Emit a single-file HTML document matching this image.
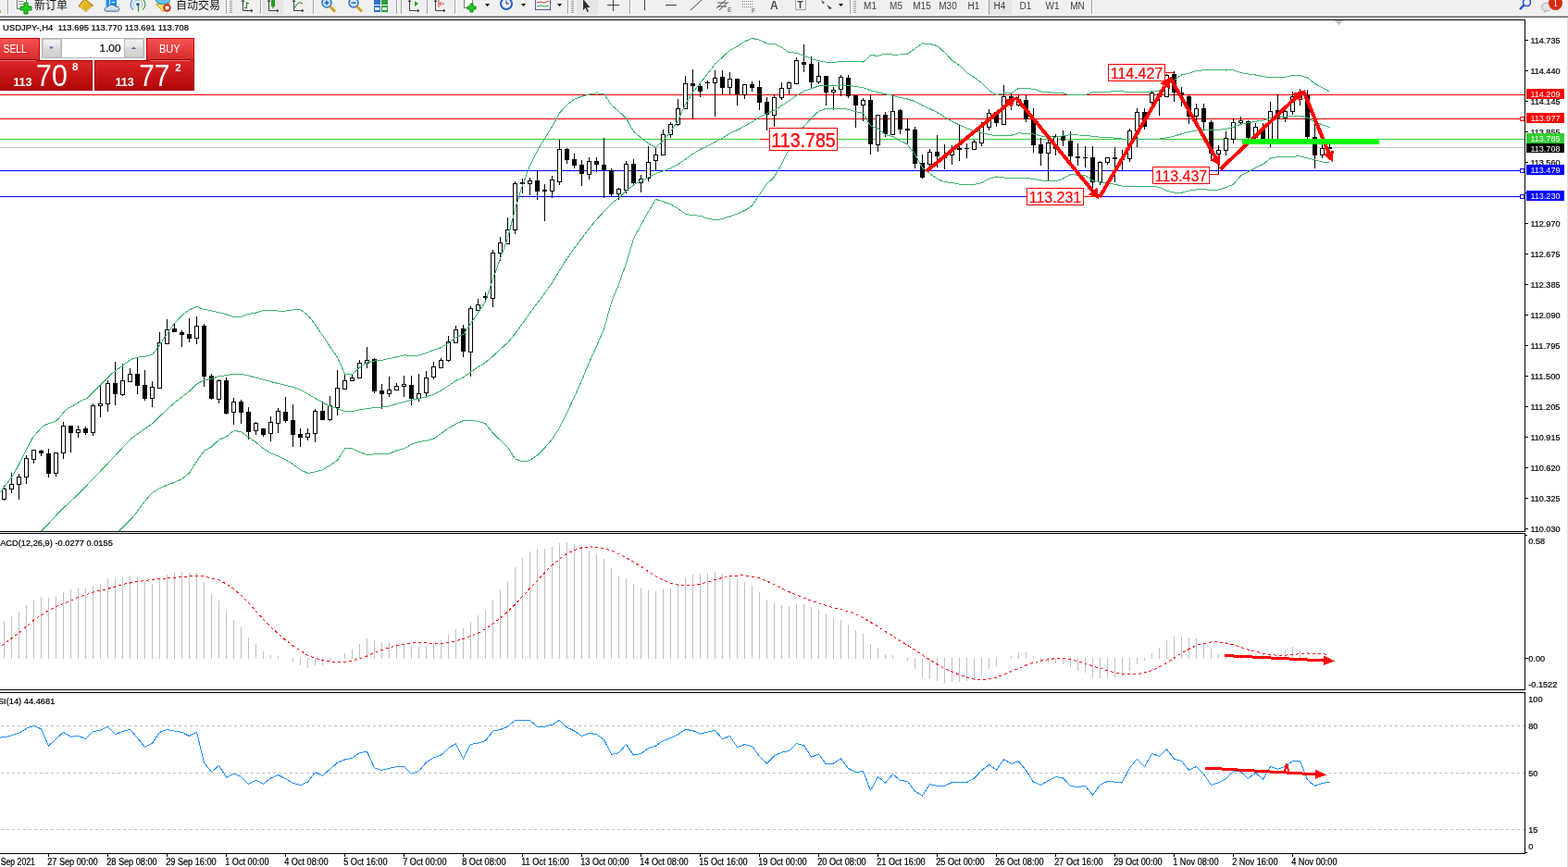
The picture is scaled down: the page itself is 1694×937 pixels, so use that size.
<!DOCTYPE html>
<html><head><meta charset="utf-8"><title>USDJPY-,H4</title><style>
html,body{margin:0;padding:0;width:1694px;height:937px;overflow:hidden;background:#fff;}
svg{display:block;position:absolute;left:0;top:0;}
text{font-family:"Liberation Sans","Noto Sans CJK SC",sans-serif;}
text[fill="#000"]{stroke:#000;stroke-width:0.22px;}
</style></head><body>
<svg width="1694" height="937" viewBox="0 0 1694 937">
<rect x="0" y="0" width="1694" height="937" fill="#ffffff"/>
<defs>
<clipPath id="cm"><rect x="0" y="22" width="1647" height="552"/></clipPath>
<clipPath id="cd"><rect x="0" y="577" width="1647" height="168"/></clipPath>
<clipPath id="cr"><rect x="0" y="749" width="1647" height="173"/></clipPath>
</defs>
<g clip-path="url(#cm)" shape-rendering="crispEdges"><rect x="0" y="102" width="1647" height="1" fill="#ff0000"/><rect x="0" y="128" width="1647" height="1" fill="#ff0000"/><rect x="0" y="150" width="1647" height="1" fill="#32cd32"/><rect x="0" y="159" width="1647" height="1" fill="#c0c0c0"/><rect x="0" y="184" width="1647" height="1" fill="#0000ff"/><rect x="0" y="212" width="1647" height="1" fill="#0000ff"/><rect x="4" y="525" width="1" height="16" fill="#000"/><rect x="2.5" y="528.5" width="4" height="11" fill="#fff" stroke="#000" stroke-width="1"/><rect x="12" y="511" width="1" height="22" fill="#000"/><rect x="10.5" y="523.5" width="4" height="5" fill="#fff" stroke="#000" stroke-width="1"/><rect x="20" y="512" width="1" height="28" fill="#000"/><rect x="18.5" y="515.5" width="4" height="8" fill="#fff" stroke="#000" stroke-width="1"/><rect x="28" y="492" width="1" height="31" fill="#000"/><rect x="26.5" y="495.5" width="4" height="20" fill="#fff" stroke="#000" stroke-width="1"/><rect x="36" y="486" width="1" height="15" fill="#000"/><rect x="34.5" y="486.5" width="4" height="10" fill="#fff" stroke="#000" stroke-width="1"/><rect x="44" y="486" width="1" height="7" fill="#000"/><rect x="42" y="487" width="5" height="3" fill="#000"/><rect x="52" y="485" width="1" height="31" fill="#000"/><rect x="50" y="490" width="5" height="22" fill="#000"/><rect x="60" y="489" width="1" height="26" fill="#000"/><rect x="58.5" y="489.5" width="4" height="22" fill="#fff" stroke="#000" stroke-width="1"/><rect x="68" y="456" width="1" height="40" fill="#000"/><rect x="66.5" y="460.5" width="4" height="29" fill="#fff" stroke="#000" stroke-width="1"/><rect x="76" y="460" width="1" height="29" fill="#000"/><rect x="74" y="460" width="5" height="8" fill="#000"/><rect x="84" y="460" width="1" height="13" fill="#000"/><rect x="82.5" y="464.5" width="4" height="3" fill="#fff" stroke="#000" stroke-width="1"/><rect x="92" y="461" width="1" height="9" fill="#000"/><rect x="90" y="463" width="5" height="5" fill="#000"/><rect x="100" y="436" width="1" height="35" fill="#000"/><rect x="98.5" y="438.5" width="4" height="29" fill="#fff" stroke="#000" stroke-width="1"/><rect x="108" y="416" width="1" height="35" fill="#000"/><rect x="106.5" y="436.5" width="4" height="2" fill="#fff" stroke="#000" stroke-width="1"/><rect x="116" y="411" width="1" height="34" fill="#000"/><rect x="114.5" y="414.5" width="4" height="22" fill="#fff" stroke="#000" stroke-width="1"/><rect x="124" y="391" width="1" height="47" fill="#000"/><rect x="122" y="414" width="5" height="12" fill="#000"/><rect x="132" y="393" width="1" height="35" fill="#000"/><rect x="130.5" y="411.5" width="4" height="15" fill="#fff" stroke="#000" stroke-width="1"/><rect x="140" y="398" width="1" height="15" fill="#000"/><rect x="138.5" y="404.5" width="4" height="8" fill="#fff" stroke="#000" stroke-width="1"/><rect x="148" y="386" width="1" height="40" fill="#000"/><rect x="146" y="404" width="5" height="13" fill="#000"/><rect x="156" y="400" width="1" height="33" fill="#000"/><rect x="154" y="416" width="5" height="15" fill="#000"/><rect x="164" y="412" width="1" height="28" fill="#000"/><rect x="162.5" y="418.5" width="4" height="12" fill="#fff" stroke="#000" stroke-width="1"/><rect x="172" y="359" width="1" height="61" fill="#000"/><rect x="170.5" y="370.5" width="4" height="49" fill="#fff" stroke="#000" stroke-width="1"/><rect x="180" y="345" width="1" height="27" fill="#000"/><rect x="178.5" y="356.5" width="4" height="15" fill="#fff" stroke="#000" stroke-width="1"/><rect x="188" y="350" width="1" height="9" fill="#000"/><rect x="186" y="355" width="5" height="4" fill="#000"/><rect x="196" y="357" width="1" height="18" fill="#000"/><rect x="194" y="359" width="5" height="3" fill="#000"/><rect x="204" y="344" width="1" height="26" fill="#000"/><rect x="202" y="361" width="5" height="5" fill="#000"/><rect x="212" y="342" width="1" height="30" fill="#000"/><rect x="210.5" y="352.5" width="4" height="13" fill="#fff" stroke="#000" stroke-width="1"/><rect x="220" y="350" width="1" height="68" fill="#000"/><rect x="218" y="352" width="5" height="55" fill="#000"/><rect x="228" y="404" width="1" height="28" fill="#000"/><rect x="226" y="406" width="5" height="25" fill="#000"/><rect x="236" y="410" width="1" height="26" fill="#000"/><rect x="234.5" y="411.5" width="4" height="20" fill="#fff" stroke="#000" stroke-width="1"/><rect x="244" y="408" width="1" height="40" fill="#000"/><rect x="242" y="411" width="5" height="36" fill="#000"/><rect x="252" y="430" width="1" height="29" fill="#000"/><rect x="250.5" y="434.5" width="4" height="11" fill="#fff" stroke="#000" stroke-width="1"/><rect x="260" y="432" width="1" height="26" fill="#000"/><rect x="258" y="434" width="5" height="12" fill="#000"/><rect x="268" y="440" width="1" height="35" fill="#000"/><rect x="266" y="445" width="5" height="22" fill="#000"/><rect x="276" y="456" width="1" height="14" fill="#000"/><rect x="274.5" y="457.5" width="4" height="8" fill="#fff" stroke="#000" stroke-width="1"/><rect x="284" y="463" width="1" height="9" fill="#000"/><rect x="282" y="463" width="5" height="7" fill="#000"/><rect x="292" y="450" width="1" height="27" fill="#000"/><rect x="290.5" y="456.5" width="4" height="12" fill="#fff" stroke="#000" stroke-width="1"/><rect x="300" y="441" width="1" height="27" fill="#000"/><rect x="298.5" y="444.5" width="4" height="13" fill="#fff" stroke="#000" stroke-width="1"/><rect x="308" y="429" width="1" height="28" fill="#000"/><rect x="306" y="445" width="5" height="10" fill="#000"/><rect x="316" y="437" width="1" height="46" fill="#000"/><rect x="314" y="454" width="5" height="16" fill="#000"/><rect x="324" y="463" width="1" height="20" fill="#000"/><rect x="322" y="469" width="5" height="4" fill="#000"/><rect x="332" y="463" width="1" height="13" fill="#000"/><rect x="330.5" y="468.5" width="4" height="4" fill="#fff" stroke="#000" stroke-width="1"/><rect x="340" y="442" width="1" height="36" fill="#000"/><rect x="338.5" y="444.5" width="4" height="24" fill="#fff" stroke="#000" stroke-width="1"/><rect x="348" y="434" width="1" height="20" fill="#000"/><rect x="346" y="444" width="5" height="10" fill="#000"/><rect x="356" y="428" width="1" height="27" fill="#000"/><rect x="354.5" y="438.5" width="4" height="15" fill="#fff" stroke="#000" stroke-width="1"/><rect x="364" y="400" width="1" height="49" fill="#000"/><rect x="362.5" y="419.5" width="4" height="21" fill="#fff" stroke="#000" stroke-width="1"/><rect x="372" y="404" width="1" height="17" fill="#000"/><rect x="370.5" y="411.5" width="4" height="9" fill="#fff" stroke="#000" stroke-width="1"/><rect x="380" y="405" width="1" height="7" fill="#000"/><rect x="378.5" y="408.5" width="4" height="3" fill="#fff" stroke="#000" stroke-width="1"/><rect x="388" y="389" width="1" height="20" fill="#000"/><rect x="386.5" y="392.5" width="4" height="16" fill="#fff" stroke="#000" stroke-width="1"/><rect x="396" y="375" width="1" height="23" fill="#000"/><rect x="394.5" y="389.5" width="4" height="3" fill="#fff" stroke="#000" stroke-width="1"/><rect x="404" y="387" width="1" height="38" fill="#000"/><rect x="402" y="388" width="5" height="35" fill="#000"/><rect x="412" y="415" width="1" height="27" fill="#000"/><rect x="410" y="422" width="5" height="4" fill="#000"/><rect x="420" y="407" width="1" height="22" fill="#000"/><rect x="418.5" y="421.5" width="4" height="4" fill="#fff" stroke="#000" stroke-width="1"/><rect x="428" y="414" width="1" height="8" fill="#000"/><rect x="426.5" y="417.5" width="4" height="4" fill="#fff" stroke="#000" stroke-width="1"/><rect x="436" y="406" width="1" height="23" fill="#000"/><rect x="434.5" y="415.5" width="4" height="2" fill="#fff" stroke="#000" stroke-width="1"/><rect x="444" y="406" width="1" height="32" fill="#000"/><rect x="442" y="416" width="5" height="15" fill="#000"/><rect x="452" y="404" width="1" height="30" fill="#000"/><rect x="450.5" y="425.5" width="4" height="5" fill="#fff" stroke="#000" stroke-width="1"/><rect x="460" y="401" width="1" height="27" fill="#000"/><rect x="458.5" y="408.5" width="4" height="16" fill="#fff" stroke="#000" stroke-width="1"/><rect x="468" y="391" width="1" height="19" fill="#000"/><rect x="466.5" y="396.5" width="4" height="11" fill="#fff" stroke="#000" stroke-width="1"/><rect x="476" y="387" width="1" height="11" fill="#000"/><rect x="474.5" y="389.5" width="4" height="8" fill="#fff" stroke="#000" stroke-width="1"/><rect x="484" y="363" width="1" height="28" fill="#000"/><rect x="482.5" y="369.5" width="4" height="20" fill="#fff" stroke="#000" stroke-width="1"/><rect x="492" y="352" width="1" height="19" fill="#000"/><rect x="490.5" y="356.5" width="4" height="14" fill="#fff" stroke="#000" stroke-width="1"/><rect x="500" y="351" width="1" height="35" fill="#000"/><rect x="498" y="355" width="5" height="25" fill="#000"/><rect x="508" y="331" width="1" height="76" fill="#000"/><rect x="506.5" y="333.5" width="4" height="47" fill="#fff" stroke="#000" stroke-width="1"/><rect x="516" y="323" width="1" height="13" fill="#000"/><rect x="514.5" y="329.5" width="4" height="6" fill="#fff" stroke="#000" stroke-width="1"/><rect x="524" y="316" width="1" height="9" fill="#000"/><rect x="522" y="320" width="5" height="2" fill="#000"/><rect x="532" y="270" width="1" height="62" fill="#000"/><rect x="530.5" y="273.5" width="4" height="49" fill="#fff" stroke="#000" stroke-width="1"/><rect x="540" y="256" width="1" height="26" fill="#000"/><rect x="538.5" y="262.5" width="4" height="11" fill="#fff" stroke="#000" stroke-width="1"/><rect x="548" y="235" width="1" height="29" fill="#000"/><rect x="546.5" y="248.5" width="4" height="15" fill="#fff" stroke="#000" stroke-width="1"/><rect x="556" y="196" width="1" height="57" fill="#000"/><rect x="554.5" y="198.5" width="4" height="50" fill="#fff" stroke="#000" stroke-width="1"/><rect x="564" y="193" width="1" height="16" fill="#000"/><rect x="562" y="197" width="5" height="2" fill="#000"/><rect x="572" y="192" width="1" height="19" fill="#000"/><rect x="570.5" y="195.5" width="4" height="3" fill="#fff" stroke="#000" stroke-width="1"/><rect x="580" y="184" width="1" height="32" fill="#000"/><rect x="578" y="195" width="5" height="12" fill="#000"/><rect x="588" y="199" width="1" height="40" fill="#000"/><rect x="586" y="205" width="5" height="2" fill="#000"/><rect x="596" y="190" width="1" height="24" fill="#000"/><rect x="594.5" y="194.5" width="4" height="12" fill="#fff" stroke="#000" stroke-width="1"/><rect x="604" y="151" width="1" height="49" fill="#000"/><rect x="602.5" y="161.5" width="4" height="35" fill="#fff" stroke="#000" stroke-width="1"/><rect x="612" y="160" width="1" height="17" fill="#000"/><rect x="610" y="161" width="5" height="12" fill="#000"/><rect x="620" y="166" width="1" height="16" fill="#000"/><rect x="618" y="172" width="5" height="7" fill="#000"/><rect x="628" y="173" width="1" height="28" fill="#000"/><rect x="626" y="178" width="5" height="10" fill="#000"/><rect x="636" y="170" width="1" height="24" fill="#000"/><rect x="634.5" y="174.5" width="4" height="14" fill="#fff" stroke="#000" stroke-width="1"/><rect x="644" y="170" width="1" height="16" fill="#000"/><rect x="642" y="174" width="5" height="4" fill="#000"/><rect x="652" y="149" width="1" height="65" fill="#000"/><rect x="650" y="178" width="5" height="6" fill="#000"/><rect x="660" y="182" width="1" height="30" fill="#000"/><rect x="658" y="184" width="5" height="26" fill="#000"/><rect x="668" y="203" width="1" height="13" fill="#000"/><rect x="666.5" y="204.5" width="4" height="5" fill="#fff" stroke="#000" stroke-width="1"/><rect x="676" y="174" width="1" height="35" fill="#000"/><rect x="674.5" y="177.5" width="4" height="28" fill="#fff" stroke="#000" stroke-width="1"/><rect x="684" y="172" width="1" height="28" fill="#000"/><rect x="682" y="177" width="5" height="21" fill="#000"/><rect x="692" y="189" width="1" height="19" fill="#000"/><rect x="690.5" y="193.5" width="4" height="4" fill="#fff" stroke="#000" stroke-width="1"/><rect x="700" y="158" width="1" height="38" fill="#000"/><rect x="698.5" y="175.5" width="4" height="17" fill="#fff" stroke="#000" stroke-width="1"/><rect x="708" y="160" width="1" height="24" fill="#000"/><rect x="706.5" y="167.5" width="4" height="6" fill="#fff" stroke="#000" stroke-width="1"/><rect x="716" y="140" width="1" height="28" fill="#000"/><rect x="714.5" y="145.5" width="4" height="22" fill="#fff" stroke="#000" stroke-width="1"/><rect x="724" y="132" width="1" height="17" fill="#000"/><rect x="722.5" y="134.5" width="4" height="11" fill="#fff" stroke="#000" stroke-width="1"/><rect x="732" y="107" width="1" height="29" fill="#000"/><rect x="730.5" y="117.5" width="4" height="17" fill="#fff" stroke="#000" stroke-width="1"/><rect x="740" y="82" width="1" height="36" fill="#000"/><rect x="738.5" y="90.5" width="4" height="27" fill="#fff" stroke="#000" stroke-width="1"/><rect x="748" y="75" width="1" height="54" fill="#000"/><rect x="746" y="90" width="5" height="3" fill="#000"/><rect x="756" y="89" width="1" height="16" fill="#000"/><rect x="754" y="93" width="5" height="6" fill="#000"/><rect x="764" y="87" width="1" height="9" fill="#000"/><rect x="762" y="89" width="5" height="1" fill="#000"/><rect x="772" y="76" width="1" height="50" fill="#000"/><rect x="770.5" y="84.5" width="4" height="5" fill="#fff" stroke="#000" stroke-width="1"/><rect x="780" y="76" width="1" height="26" fill="#000"/><rect x="778" y="83" width="5" height="12" fill="#000"/><rect x="788" y="78" width="1" height="24" fill="#000"/><rect x="786.5" y="85.5" width="4" height="9" fill="#fff" stroke="#000" stroke-width="1"/><rect x="796" y="85" width="1" height="29" fill="#000"/><rect x="794" y="85" width="5" height="17" fill="#000"/><rect x="804" y="91" width="1" height="16" fill="#000"/><rect x="802.5" y="91.5" width="4" height="11" fill="#fff" stroke="#000" stroke-width="1"/><rect x="812" y="88" width="1" height="11" fill="#000"/><rect x="810" y="91" width="5" height="4" fill="#000"/><rect x="820" y="87" width="1" height="32" fill="#000"/><rect x="818" y="94" width="5" height="17" fill="#000"/><rect x="828" y="105" width="1" height="36" fill="#000"/><rect x="826" y="110" width="5" height="14" fill="#000"/><rect x="836" y="103" width="1" height="34" fill="#000"/><rect x="834.5" y="105.5" width="4" height="19" fill="#fff" stroke="#000" stroke-width="1"/><rect x="844" y="89" width="1" height="19" fill="#000"/><rect x="842.5" y="95.5" width="4" height="10" fill="#fff" stroke="#000" stroke-width="1"/><rect x="852" y="88" width="1" height="14" fill="#000"/><rect x="850.5" y="89.5" width="4" height="6" fill="#fff" stroke="#000" stroke-width="1"/><rect x="860" y="62" width="1" height="29" fill="#000"/><rect x="858.5" y="65.5" width="4" height="25" fill="#fff" stroke="#000" stroke-width="1"/><rect x="868" y="48" width="1" height="30" fill="#000"/><rect x="866" y="67" width="5" height="3" fill="#000"/><rect x="876" y="61" width="1" height="34" fill="#000"/><rect x="874" y="69" width="5" height="20" fill="#000"/><rect x="884" y="67" width="1" height="24" fill="#000"/><rect x="882.5" y="82.5" width="4" height="6" fill="#fff" stroke="#000" stroke-width="1"/><rect x="892" y="82" width="1" height="32" fill="#000"/><rect x="890" y="82" width="5" height="18" fill="#000"/><rect x="900" y="94" width="1" height="25" fill="#000"/><rect x="898.5" y="97.5" width="4" height="2" fill="#fff" stroke="#000" stroke-width="1"/><rect x="908" y="81" width="1" height="23" fill="#000"/><rect x="906.5" y="83.5" width="4" height="13" fill="#fff" stroke="#000" stroke-width="1"/><rect x="916" y="81" width="1" height="25" fill="#000"/><rect x="914" y="84" width="5" height="20" fill="#000"/><rect x="924" y="103" width="1" height="35" fill="#000"/><rect x="922" y="103" width="5" height="11" fill="#000"/><rect x="932" y="106" width="1" height="25" fill="#000"/><rect x="930.5" y="108.5" width="4" height="5" fill="#fff" stroke="#000" stroke-width="1"/><rect x="940" y="103" width="1" height="64" fill="#000"/><rect x="938" y="108" width="5" height="48" fill="#000"/><rect x="948" y="124" width="1" height="40" fill="#000"/><rect x="946.5" y="124.5" width="4" height="32" fill="#fff" stroke="#000" stroke-width="1"/><rect x="956" y="121" width="1" height="27" fill="#000"/><rect x="954" y="124" width="5" height="21" fill="#000"/><rect x="964" y="104" width="1" height="42" fill="#000"/><rect x="962.5" y="120.5" width="4" height="25" fill="#fff" stroke="#000" stroke-width="1"/><rect x="972" y="118" width="1" height="27" fill="#000"/><rect x="970" y="119" width="5" height="21" fill="#000"/><rect x="980" y="128" width="1" height="28" fill="#000"/><rect x="978" y="139" width="5" height="2" fill="#000"/><rect x="988" y="137" width="1" height="45" fill="#000"/><rect x="986" y="140" width="5" height="37" fill="#000"/><rect x="996" y="167" width="1" height="26" fill="#000"/><rect x="994" y="176" width="5" height="16" fill="#000"/><rect x="1004" y="161" width="1" height="20" fill="#000"/><rect x="1002.5" y="164.5" width="4" height="13" fill="#fff" stroke="#000" stroke-width="1"/><rect x="1012" y="146" width="1" height="35" fill="#000"/><rect x="1010" y="164" width="5" height="5" fill="#000"/><rect x="1020" y="156" width="1" height="27" fill="#000"/><rect x="1018" y="168" width="5" height="3" fill="#000"/><rect x="1028" y="157" width="1" height="21" fill="#000"/><rect x="1026.5" y="161.5" width="4" height="6" fill="#fff" stroke="#000" stroke-width="1"/><rect x="1036" y="135" width="1" height="39" fill="#000"/><rect x="1034" y="160" width="5" height="2" fill="#000"/><rect x="1044" y="155" width="1" height="16" fill="#000"/><rect x="1042" y="160" width="5" height="1" fill="#000"/><rect x="1052" y="151" width="1" height="11" fill="#000"/><rect x="1050.5" y="153.5" width="4" height="8" fill="#fff" stroke="#000" stroke-width="1"/><rect x="1060" y="132" width="1" height="26" fill="#000"/><rect x="1058.5" y="136.5" width="4" height="18" fill="#fff" stroke="#000" stroke-width="1"/><rect x="1068" y="118" width="1" height="23" fill="#000"/><rect x="1066.5" y="122.5" width="4" height="15" fill="#fff" stroke="#000" stroke-width="1"/><rect x="1076" y="120" width="1" height="17" fill="#000"/><rect x="1074" y="121" width="5" height="12" fill="#000"/><rect x="1084" y="92" width="1" height="43" fill="#000"/><rect x="1082.5" y="104.5" width="4" height="30" fill="#fff" stroke="#000" stroke-width="1"/><rect x="1092" y="100" width="1" height="19" fill="#000"/><rect x="1090" y="104" width="5" height="4" fill="#000"/><rect x="1100" y="103" width="1" height="12" fill="#000"/><rect x="1098.5" y="107.5" width="4" height="6" fill="#fff" stroke="#000" stroke-width="1"/><rect x="1108" y="103" width="1" height="29" fill="#000"/><rect x="1106" y="108" width="5" height="21" fill="#000"/><rect x="1116" y="117" width="1" height="48" fill="#000"/><rect x="1114" y="128" width="5" height="29" fill="#000"/><rect x="1124" y="149" width="1" height="30" fill="#000"/><rect x="1122" y="156" width="5" height="10" fill="#000"/><rect x="1132" y="148" width="1" height="48" fill="#000"/><rect x="1130.5" y="154.5" width="4" height="11" fill="#fff" stroke="#000" stroke-width="1"/><rect x="1140" y="145" width="1" height="23" fill="#000"/><rect x="1138.5" y="147.5" width="4" height="13" fill="#fff" stroke="#000" stroke-width="1"/><rect x="1148" y="141" width="1" height="17" fill="#000"/><rect x="1146" y="147" width="5" height="5" fill="#000"/><rect x="1156" y="142" width="1" height="36" fill="#000"/><rect x="1154" y="152" width="5" height="17" fill="#000"/><rect x="1164" y="155" width="1" height="24" fill="#000"/><rect x="1162" y="169" width="5" height="2" fill="#000"/><rect x="1172" y="158" width="1" height="23" fill="#000"/><rect x="1170" y="170" width="5" height="1" fill="#000"/><rect x="1180" y="158" width="1" height="53" fill="#000"/><rect x="1178" y="170" width="5" height="27" fill="#000"/><rect x="1188" y="174" width="1" height="26" fill="#000"/><rect x="1186.5" y="175.5" width="4" height="21" fill="#fff" stroke="#000" stroke-width="1"/><rect x="1196" y="170" width="1" height="8" fill="#000"/><rect x="1194.5" y="170.5" width="4" height="5" fill="#fff" stroke="#000" stroke-width="1"/><rect x="1204" y="159" width="1" height="38" fill="#000"/><rect x="1202" y="170" width="5" height="2" fill="#000"/><rect x="1212" y="162" width="1" height="22" fill="#000"/><rect x="1210" y="171" width="5" height="2" fill="#000"/><rect x="1220" y="139" width="1" height="36" fill="#000"/><rect x="1218.5" y="141.5" width="4" height="30" fill="#fff" stroke="#000" stroke-width="1"/><rect x="1228" y="117" width="1" height="42" fill="#000"/><rect x="1226.5" y="121.5" width="4" height="20" fill="#fff" stroke="#000" stroke-width="1"/><rect x="1236" y="117" width="1" height="23" fill="#000"/><rect x="1234" y="121" width="5" height="16" fill="#000"/><rect x="1244" y="98" width="1" height="16" fill="#000"/><rect x="1242.5" y="100.5" width="4" height="10" fill="#fff" stroke="#000" stroke-width="1"/><rect x="1252" y="101" width="1" height="24" fill="#000"/><rect x="1250" y="101" width="5" height="4" fill="#000"/><rect x="1260" y="80" width="1" height="25" fill="#000"/><rect x="1258.5" y="81.5" width="4" height="23" fill="#fff" stroke="#000" stroke-width="1"/><rect x="1268" y="77" width="1" height="33" fill="#000"/><rect x="1266" y="80" width="5" height="20" fill="#000"/><rect x="1276" y="94" width="1" height="21" fill="#000"/><rect x="1274" y="100" width="5" height="3" fill="#000"/><rect x="1284" y="103" width="1" height="31" fill="#000"/><rect x="1282" y="104" width="5" height="22" fill="#000"/><rect x="1292" y="112" width="1" height="18" fill="#000"/><rect x="1290.5" y="117.5" width="4" height="8" fill="#fff" stroke="#000" stroke-width="1"/><rect x="1300" y="112" width="1" height="29" fill="#000"/><rect x="1298" y="117" width="5" height="15" fill="#000"/><rect x="1308" y="130" width="1" height="44" fill="#000"/><rect x="1306" y="132" width="5" height="34" fill="#000"/><rect x="1316" y="157" width="1" height="31" fill="#000"/><rect x="1314.5" y="162.5" width="4" height="4" fill="#fff" stroke="#000" stroke-width="1"/><rect x="1324" y="142" width="1" height="26" fill="#000"/><rect x="1322.5" y="149.5" width="4" height="13" fill="#fff" stroke="#000" stroke-width="1"/><rect x="1332" y="128" width="1" height="27" fill="#000"/><rect x="1330.5" y="132.5" width="4" height="18" fill="#fff" stroke="#000" stroke-width="1"/><rect x="1340" y="126" width="1" height="9" fill="#000"/><rect x="1338.5" y="130.5" width="4" height="2" fill="#fff" stroke="#000" stroke-width="1"/><rect x="1348" y="130" width="1" height="21" fill="#000"/><rect x="1346" y="131" width="5" height="18" fill="#000"/><rect x="1356" y="133" width="1" height="17" fill="#000"/><rect x="1354.5" y="137.5" width="4" height="11" fill="#fff" stroke="#000" stroke-width="1"/><rect x="1364" y="133" width="1" height="17" fill="#000"/><rect x="1362" y="138" width="5" height="12" fill="#000"/><rect x="1372" y="110" width="1" height="49" fill="#000"/><rect x="1370.5" y="120.5" width="4" height="30" fill="#fff" stroke="#000" stroke-width="1"/><rect x="1380" y="102" width="1" height="48" fill="#000"/><rect x="1378" y="119" width="5" height="9" fill="#000"/><rect x="1388" y="119" width="1" height="13" fill="#000"/><rect x="1386.5" y="120.5" width="4" height="7" fill="#fff" stroke="#000" stroke-width="1"/><rect x="1396" y="99" width="1" height="25" fill="#000"/><rect x="1394.5" y="104.5" width="4" height="16" fill="#fff" stroke="#000" stroke-width="1"/><rect x="1404" y="96" width="1" height="18" fill="#000"/><rect x="1402.5" y="103.5" width="4" height="4" fill="#fff" stroke="#000" stroke-width="1"/><rect x="1412" y="97" width="1" height="53" fill="#000"/><rect x="1410" y="103" width="5" height="45" fill="#000"/><rect x="1420" y="130" width="1" height="52" fill="#000"/><rect x="1418" y="148" width="5" height="20" fill="#000"/><rect x="1428" y="156" width="1" height="15" fill="#000"/><rect x="1426.5" y="160.5" width="4" height="7" fill="#fff" stroke="#000" stroke-width="1"/><rect x="1436" y="151" width="1" height="10" fill="#000"/><rect x="1434.5" y="159.5" width="4" height="1" fill="#fff" stroke="#000" stroke-width="1"/><polyline points="0.0,532.3 14.2,513.8 35.4,472.8 46.8,460.0 61.0,454.8 71.0,443.0 88.0,432.9 93.7,430.8 107.9,416.6 120.6,403.8 141.9,388.2 149.0,386.1 156.5,385.4 164.5,383.4 172.5,372.7 180.5,360.5 188.5,349.6 196.5,340.8 204.5,334.8 212.5,331.5 220.5,334.5 228.5,335.8 236.5,337.9 244.5,339.6 252.5,342.7 260.5,342.2 268.5,339.4 276.5,338.0 284.5,335.6 292.5,335.2 300.5,336.1 308.5,336.1 316.5,335.0 324.5,334.5 332.5,340.4 340.5,350.8 348.5,362.4 356.5,374.7 364.5,386.1 372.5,404.2 380.5,404.7 388.5,397.0 396.5,392.0 404.5,390.1 412.5,389.3 420.5,387.5 428.5,385.8 436.5,383.8 444.5,384.4 452.5,384.0 460.5,381.6 468.5,378.1 476.5,375.7 484.5,371.0 492.5,364.4 500.5,361.6 508.5,349.7 516.5,338.1 524.5,325.6 532.5,301.6 540.5,279.4 548.5,257.5 556.5,225.7 564.5,200.3 572.5,178.7 580.5,162.8 588.5,149.6 596.5,136.8 604.5,122.2 612.5,113.3 620.5,107.2 628.5,104.3 636.5,102.0 644.5,100.8 652.5,101.7 660.5,113.5 668.5,120.3 676.5,127.9 684.5,142.1 692.5,148.8 700.5,154.7 708.5,159.7 716.5,151.9 724.5,142.5 732.5,130.1 740.5,112.7 748.5,99.7 756.5,89.9 764.5,79.6 772.5,69.2 780.5,62.0 788.5,54.4 796.5,50.0 804.5,44.9 812.5,41.3 820.5,43.2 828.5,47.0 836.5,47.3 844.5,51.1 852.5,56.5 860.5,57.2 868.5,60.2 876.5,63.6 884.5,65.8 892.5,67.1 900.5,67.3 908.5,66.6 916.5,66.5 924.5,66.2 932.5,67.1 940.5,59.6 948.5,60.4 956.5,58.1 964.5,59.1 972.5,59.0 980.5,58.1 988.5,52.6 996.5,46.9 1004.5,47.5 1012.5,49.5 1020.5,56.6 1028.5,65.0 1036.5,70.6 1044.5,78.5 1052.5,83.7 1060.5,89.3 1068.5,97.7 1076.5,102.7 1084.5,100.8 1092.5,100.5 1100.5,95.3 1108.5,95.8 1116.5,96.1 1124.5,99.0 1132.5,99.8 1140.5,100.3 1148.5,100.7 1156.5,103.0 1164.5,102.7 1172.5,102.6 1180.5,99.8 1188.5,99.3 1196.5,99.1 1204.5,98.9 1212.5,98.9 1220.5,99.4 1228.5,99.2 1236.5,99.7 1244.5,98.7 1252.5,98.1 1260.5,91.5 1268.5,86.6 1276.5,81.0 1284.5,79.2 1292.5,76.6 1300.5,75.7 1308.5,75.6 1316.5,75.8 1324.5,76.0 1332.5,75.7 1340.5,78.5 1348.5,79.9 1356.5,81.0 1364.5,82.6 1372.5,83.9 1380.5,83.7 1388.5,83.6 1396.5,81.1 1404.5,81.6 1412.5,83.9 1420.5,90.5 1428.5,94.6 1436.5,99.1" fill="none" stroke="#3cb371" stroke-width="1" /><polyline points="43.9,574.5 49.6,569.1 65.2,552.1 85.0,533.7 113.4,504.1 141.7,474.0 156.5,463.4 164.5,457.9 172.5,450.2 180.5,442.3 188.5,435.4 196.5,429.2 204.5,423.0 212.5,415.1 220.5,410.9 228.5,409.4 236.5,406.6 244.5,405.7 252.5,404.1 260.5,404.4 268.5,405.9 276.5,408.1 284.5,410.2 292.5,412.5 300.5,414.5 308.5,416.4 316.5,418.4 324.5,421.1 332.5,425.9 340.5,430.4 348.5,435.1 356.5,438.9 364.5,441.6 372.5,444.6 380.5,444.7 388.5,442.8 396.5,441.7 404.5,440.5 412.5,440.1 420.5,438.9 428.5,436.4 436.5,434.3 444.5,432.4 452.5,430.8 460.5,429.0 468.5,426.1 476.5,422.1 484.5,416.9 492.5,411.4 500.5,408.1 508.5,402.1 516.5,396.6 524.5,391.8 532.5,384.9 540.5,377.6 548.5,370.4 556.5,360.8 564.5,349.6 572.5,338.1 580.5,327.4 588.5,316.8 596.5,305.8 604.5,292.3 612.5,279.6 620.5,268.1 628.5,257.7 636.5,246.9 644.5,237.3 652.5,228.7 660.5,220.2 668.5,213.8 676.5,206.2 684.5,199.9 692.5,195.9 700.5,191.6 708.5,187.6 716.5,184.9 724.5,181.7 732.5,177.8 740.5,172.0 748.5,166.3 756.5,161.5 764.5,157.9 772.5,153.5 780.5,149.3 788.5,144.2 796.5,140.6 804.5,136.2 812.5,131.8 820.5,126.8 828.5,122.8 836.5,119.2 844.5,114.1 852.5,108.9 860.5,103.4 868.5,98.5 876.5,95.7 884.5,93.0 892.5,92.2 900.5,92.5 908.5,92.0 916.5,92.3 924.5,93.5 932.5,94.7 940.5,97.8 948.5,99.7 956.5,101.8 964.5,103.3 972.5,105.5 980.5,107.0 988.5,109.7 996.5,114.0 1004.5,117.5 1012.5,121.4 1020.5,126.7 1028.5,131.2 1036.5,134.9 1044.5,138.8 1052.5,141.5 1060.5,143.4 1068.5,145.4 1076.5,146.8 1084.5,146.4 1092.5,146.3 1100.5,143.9 1108.5,144.2 1116.5,144.8 1124.5,147.0 1132.5,147.8 1140.5,148.1 1148.5,146.8 1156.5,145.7 1164.5,146.0 1172.5,146.1 1180.5,147.4 1188.5,148.1 1196.5,148.6 1204.5,149.1 1212.5,150.1 1220.5,150.3 1228.5,150.2 1236.5,150.4 1244.5,150.2 1252.5,150.1 1260.5,148.8 1268.5,147.3 1276.5,144.7 1284.5,142.7 1292.5,140.8 1300.5,140.0 1308.5,140.7 1316.5,140.4 1324.5,139.3 1332.5,137.4 1340.5,134.2 1348.5,132.8 1356.5,131.2 1364.5,130.1 1372.5,127.5 1380.5,126.8 1388.5,126.7 1396.5,125.1 1404.5,125.2 1412.5,127.4 1420.5,131.7 1428.5,134.8 1436.5,137.6" fill="none" stroke="#3cb371" stroke-width="1" /><polyline points="128.2,574.5 144.5,557.8 156.5,541.4 164.5,532.4 172.5,527.8 180.5,524.1 188.5,521.3 196.5,517.6 204.5,511.2 212.5,498.6 220.5,487.3 228.5,483.0 236.5,475.3 244.5,471.8 252.5,465.4 260.5,466.6 268.5,472.4 276.5,478.1 284.5,484.9 292.5,489.8 300.5,492.9 308.5,496.7 316.5,501.7 324.5,507.6 332.5,511.5 340.5,509.9 348.5,507.8 356.5,503.2 364.5,497.2 372.5,485.0 380.5,484.7 388.5,488.6 396.5,491.4 404.5,490.9 412.5,490.8 420.5,490.2 428.5,487.0 436.5,484.8 444.5,480.3 452.5,477.6 460.5,476.4 468.5,474.1 476.5,468.5 484.5,462.9 492.5,458.3 500.5,454.6 508.5,454.5 516.5,455.2 524.5,457.9 532.5,468.1 540.5,475.7 548.5,483.2 556.5,495.9 564.5,498.9 572.5,497.5 580.5,491.9 588.5,484.0 596.5,474.7 604.5,462.4 612.5,446.0 620.5,429.1 628.5,411.1 636.5,391.9 644.5,373.9 652.5,355.7 660.5,326.9 668.5,307.2 676.5,284.4 684.5,257.8 692.5,243.1 700.5,228.5 708.5,215.4 716.5,217.9 724.5,220.9 732.5,225.5 740.5,231.3 748.5,232.9 756.5,233.1 764.5,236.2 772.5,237.8 780.5,236.6 788.5,234.0 796.5,231.1 804.5,227.6 812.5,222.3 820.5,210.5 828.5,198.6 836.5,191.1 844.5,177.1 852.5,161.3 860.5,149.6 868.5,136.8 876.5,127.7 884.5,120.3 892.5,117.2 900.5,117.7 908.5,117.5 916.5,118.1 924.5,120.8 932.5,122.3 940.5,135.9 948.5,139.0 956.5,145.6 964.5,147.5 972.5,152.1 980.5,156.0 988.5,166.8 996.5,181.1 1004.5,187.4 1012.5,193.3 1020.5,196.7 1028.5,197.5 1036.5,199.2 1044.5,199.1 1052.5,199.3 1060.5,197.6 1068.5,193.1 1076.5,191.0 1084.5,192.0 1092.5,192.2 1100.5,192.6 1108.5,192.5 1116.5,193.4 1124.5,195.0 1132.5,195.7 1140.5,195.9 1148.5,193.0 1156.5,188.4 1164.5,189.3 1172.5,189.6 1180.5,195.0 1188.5,196.9 1196.5,198.0 1204.5,199.3 1212.5,201.2 1220.5,201.2 1228.5,201.3 1236.5,201.2 1244.5,201.8 1252.5,202.1 1260.5,206.1 1268.5,208.1 1276.5,208.3 1284.5,206.1 1292.5,205.0 1300.5,204.3 1308.5,205.8 1316.5,205.0 1324.5,202.7 1332.5,199.2 1340.5,189.8 1348.5,185.7 1356.5,181.3 1364.5,177.5 1372.5,171.0 1380.5,169.8 1388.5,169.8 1396.5,169.1 1404.5,168.9 1412.5,170.9 1420.5,172.9 1428.5,174.9 1436.5,176.1" fill="none" stroke="#3cb371" stroke-width="1" /><line x1="1001" y1="185" x2="1089.0" y2="112.3" stroke="#ff0000" stroke-width="4"/><polygon points="1097.5,105.3 1092.8,116.9 1085.2,107.7" fill="#ff0000"/><line x1="1097.5" y1="105.3" x2="1180.5" y2="206.5" stroke="#ff0000" stroke-width="4"/><polygon points="1187.5,215.0 1175.9,210.3 1185.2,202.7" fill="#ff0000"/><line x1="1188" y1="213" x2="1258.4" y2="93.1" stroke="#ff0000" stroke-width="4"/><polygon points="1264.0,83.6 1263.6,96.1 1253.3,90.0" fill="#ff0000"/><line x1="1264" y1="83.6" x2="1313.1" y2="169.9" stroke="#ff0000" stroke-width="4"/><polygon points="1318.5,179.5 1307.8,172.9 1318.3,167.0" fill="#ff0000"/><line x1="1318.3" y1="183" x2="1400.0" y2="105.4" stroke="#ff0000" stroke-width="4"/><polygon points="1408.0,97.8 1404.2,109.7 1395.9,101.0" fill="#ff0000"/><line x1="1408" y1="97.8" x2="1435.3" y2="164.8" stroke="#ff0000" stroke-width="4"/><polygon points="1439.5,175.0 1429.8,167.1 1440.9,162.5" fill="#ff0000"/><rect x="1342" y="150" width="148" height="6" fill="#00ff00"/><polyline points="821,150.5 831,150.5" fill="none" stroke="#ff0000" stroke-width="1"/><rect x="831.5" y="138.5" width="73" height="24" fill="#fff" stroke="#ff0000" stroke-width="1"/><text x="868.0" y="158.9" font-size="21.5" fill="#ff0000" stroke="#ff0000" stroke-width="0.35" text-anchor="middle" textLength="69.4" lengthAdjust="spacingAndGlyphs">113.785</text><polyline points="1259,78.5 1268,78.5" fill="none" stroke="#ff0000" stroke-width="1"/><rect x="1197.5" y="69.5" width="61" height="18" fill="#fff" stroke="#ff0000" stroke-width="1"/><text x="1228.0" y="84.7" font-size="15.6" fill="#ff0000" stroke="#ff0000" stroke-width="0.2" text-anchor="middle" textLength="56.5" lengthAdjust="spacingAndGlyphs">114.427</text><polyline points="1171,212.5 1182,212.5" fill="none" stroke="#ff0000" stroke-width="1"/><rect x="1109.5" y="203.5" width="61" height="18" fill="#fff" stroke="#ff0000" stroke-width="1"/><text x="1140.0" y="218.7" font-size="15.6" fill="#ff0000" stroke="#ff0000" stroke-width="0.2" text-anchor="middle" textLength="56.5" lengthAdjust="spacingAndGlyphs">113.231</text><polyline points="1307,188.5 1317,188.5" fill="none" stroke="#ff0000" stroke-width="1"/><rect x="1245.5" y="180.5" width="61" height="18" fill="#fff" stroke="#ff0000" stroke-width="1"/><text x="1276.0" y="195.7" font-size="15.6" fill="#ff0000" stroke="#ff0000" stroke-width="0.2" text-anchor="middle" textLength="56.5" lengthAdjust="spacingAndGlyphs">113.437</text></g>
<g clip-path="url(#cd)" shape-rendering="crispEdges"><rect x="4" y="671" width="1" height="41" fill="#c0c0c0"/><rect x="12" y="666" width="1" height="46" fill="#c0c0c0"/><rect x="20" y="661" width="1" height="51" fill="#c0c0c0"/><rect x="28" y="654" width="1" height="58" fill="#c0c0c0"/><rect x="36" y="648" width="1" height="64" fill="#c0c0c0"/><rect x="44" y="645" width="1" height="67" fill="#c0c0c0"/><rect x="52" y="646" width="1" height="66" fill="#c0c0c0"/><rect x="60" y="645" width="1" height="67" fill="#c0c0c0"/><rect x="68" y="640" width="1" height="72" fill="#c0c0c0"/><rect x="76" y="637" width="1" height="75" fill="#c0c0c0"/><rect x="84" y="636" width="1" height="76" fill="#c0c0c0"/><rect x="92" y="636" width="1" height="76" fill="#c0c0c0"/><rect x="100" y="633" width="1" height="79" fill="#c0c0c0"/><rect x="108" y="631" width="1" height="81" fill="#c0c0c0"/><rect x="116" y="626" width="1" height="86" fill="#c0c0c0"/><rect x="124" y="626" width="1" height="86" fill="#c0c0c0"/><rect x="132" y="624" width="1" height="88" fill="#c0c0c0"/><rect x="140" y="622" width="1" height="90" fill="#c0c0c0"/><rect x="148" y="624" width="1" height="88" fill="#c0c0c0"/><rect x="156" y="628" width="1" height="84" fill="#c0c0c0"/><rect x="164" y="631" width="1" height="81" fill="#c0c0c0"/><rect x="172" y="626" width="1" height="86" fill="#c0c0c0"/><rect x="180" y="621" width="1" height="91" fill="#c0c0c0"/><rect x="188" y="618" width="1" height="94" fill="#c0c0c0"/><rect x="196" y="618" width="1" height="94" fill="#c0c0c0"/><rect x="204" y="619" width="1" height="93" fill="#c0c0c0"/><rect x="212" y="619" width="1" height="93" fill="#c0c0c0"/><rect x="220" y="629" width="1" height="83" fill="#c0c0c0"/><rect x="228" y="642" width="1" height="70" fill="#c0c0c0"/><rect x="236" y="649" width="1" height="63" fill="#c0c0c0"/><rect x="244" y="661" width="1" height="51" fill="#c0c0c0"/><rect x="252" y="670" width="1" height="42" fill="#c0c0c0"/><rect x="260" y="678" width="1" height="34" fill="#c0c0c0"/><rect x="268" y="689" width="1" height="23" fill="#c0c0c0"/><rect x="276" y="696" width="1" height="16" fill="#c0c0c0"/><rect x="284" y="704" width="1" height="8" fill="#c0c0c0"/><rect x="292" y="708" width="1" height="4" fill="#c0c0c0"/><rect x="300" y="709" width="1" height="3" fill="#c0c0c0"/><rect x="316" y="711" width="1" height="4" fill="#c0c0c0"/><rect x="324" y="711" width="1" height="8" fill="#c0c0c0"/><rect x="332" y="711" width="1" height="11" fill="#c0c0c0"/><rect x="340" y="711" width="1" height="8" fill="#c0c0c0"/><rect x="348" y="711" width="1" height="8" fill="#c0c0c0"/><rect x="356" y="711" width="1" height="4" fill="#c0c0c0"/><rect x="372" y="706" width="1" height="6" fill="#c0c0c0"/><rect x="380" y="702" width="1" height="10" fill="#c0c0c0"/><rect x="388" y="696" width="1" height="16" fill="#c0c0c0"/><rect x="396" y="690" width="1" height="22" fill="#c0c0c0"/><rect x="404" y="692" width="1" height="20" fill="#c0c0c0"/><rect x="412" y="694" width="1" height="18" fill="#c0c0c0"/><rect x="420" y="694" width="1" height="18" fill="#c0c0c0"/><rect x="428" y="695" width="1" height="17" fill="#c0c0c0"/><rect x="436" y="696" width="1" height="16" fill="#c0c0c0"/><rect x="444" y="698" width="1" height="14" fill="#c0c0c0"/><rect x="452" y="699" width="1" height="13" fill="#c0c0c0"/><rect x="460" y="698" width="1" height="14" fill="#c0c0c0"/><rect x="468" y="695" width="1" height="17" fill="#c0c0c0"/><rect x="476" y="692" width="1" height="20" fill="#c0c0c0"/><rect x="484" y="686" width="1" height="26" fill="#c0c0c0"/><rect x="492" y="680" width="1" height="32" fill="#c0c0c0"/><rect x="500" y="679" width="1" height="33" fill="#c0c0c0"/><rect x="508" y="672" width="1" height="40" fill="#c0c0c0"/><rect x="516" y="665" width="1" height="47" fill="#c0c0c0"/><rect x="524" y="660" width="1" height="52" fill="#c0c0c0"/><rect x="532" y="648" width="1" height="64" fill="#c0c0c0"/><rect x="540" y="638" width="1" height="74" fill="#c0c0c0"/><rect x="548" y="628" width="1" height="84" fill="#c0c0c0"/><rect x="556" y="613" width="1" height="99" fill="#c0c0c0"/><rect x="564" y="603" width="1" height="109" fill="#c0c0c0"/><rect x="572" y="596" width="1" height="116" fill="#c0c0c0"/><rect x="580" y="593" width="1" height="119" fill="#c0c0c0"/><rect x="588" y="593" width="1" height="119" fill="#c0c0c0"/><rect x="596" y="591" width="1" height="121" fill="#c0c0c0"/><rect x="604" y="587" width="1" height="125" fill="#c0c0c0"/><rect x="612" y="586" width="1" height="126" fill="#c0c0c0"/><rect x="620" y="588" width="1" height="124" fill="#c0c0c0"/><rect x="628" y="592" width="1" height="120" fill="#c0c0c0"/><rect x="636" y="595" width="1" height="117" fill="#c0c0c0"/><rect x="644" y="599" width="1" height="113" fill="#c0c0c0"/><rect x="652" y="604" width="1" height="108" fill="#c0c0c0"/><rect x="660" y="614" width="1" height="98" fill="#c0c0c0"/><rect x="668" y="622" width="1" height="90" fill="#c0c0c0"/><rect x="676" y="625" width="1" height="87" fill="#c0c0c0"/><rect x="684" y="631" width="1" height="81" fill="#c0c0c0"/><rect x="692" y="636" width="1" height="76" fill="#c0c0c0"/><rect x="700" y="638" width="1" height="74" fill="#c0c0c0"/><rect x="708" y="639" width="1" height="73" fill="#c0c0c0"/><rect x="716" y="637" width="1" height="75" fill="#c0c0c0"/><rect x="724" y="635" width="1" height="77" fill="#c0c0c0"/><rect x="732" y="631" width="1" height="81" fill="#c0c0c0"/><rect x="740" y="625" width="1" height="87" fill="#c0c0c0"/><rect x="748" y="621" width="1" height="91" fill="#c0c0c0"/><rect x="756" y="620" width="1" height="92" fill="#c0c0c0"/><rect x="764" y="619" width="1" height="93" fill="#c0c0c0"/><rect x="772" y="618" width="1" height="94" fill="#c0c0c0"/><rect x="780" y="620" width="1" height="92" fill="#c0c0c0"/><rect x="788" y="623" width="1" height="89" fill="#c0c0c0"/><rect x="796" y="626" width="1" height="86" fill="#c0c0c0"/><rect x="804" y="629" width="1" height="83" fill="#c0c0c0"/><rect x="812" y="633" width="1" height="79" fill="#c0c0c0"/><rect x="820" y="640" width="1" height="72" fill="#c0c0c0"/><rect x="828" y="648" width="1" height="64" fill="#c0c0c0"/><rect x="836" y="652" width="1" height="60" fill="#c0c0c0"/><rect x="844" y="654" width="1" height="58" fill="#c0c0c0"/><rect x="852" y="655" width="1" height="57" fill="#c0c0c0"/><rect x="860" y="653" width="1" height="59" fill="#c0c0c0"/><rect x="868" y="653" width="1" height="59" fill="#c0c0c0"/><rect x="876" y="656" width="1" height="56" fill="#c0c0c0"/><rect x="884" y="659" width="1" height="53" fill="#c0c0c0"/><rect x="892" y="664" width="1" height="48" fill="#c0c0c0"/><rect x="900" y="668" width="1" height="44" fill="#c0c0c0"/><rect x="908" y="670" width="1" height="42" fill="#c0c0c0"/><rect x="916" y="675" width="1" height="37" fill="#c0c0c0"/><rect x="924" y="681" width="1" height="31" fill="#c0c0c0"/><rect x="932" y="685" width="1" height="27" fill="#c0c0c0"/><rect x="940" y="696" width="1" height="16" fill="#c0c0c0"/><rect x="948" y="700" width="1" height="12" fill="#c0c0c0"/><rect x="956" y="707" width="1" height="5" fill="#c0c0c0"/><rect x="964" y="708" width="1" height="4" fill="#c0c0c0"/><rect x="980" y="711" width="1" height="3" fill="#c0c0c0"/><rect x="988" y="711" width="1" height="12" fill="#c0c0c0"/><rect x="996" y="711" width="1" height="21" fill="#c0c0c0"/><rect x="1004" y="711" width="1" height="23" fill="#c0c0c0"/><rect x="1012" y="711" width="1" height="25" fill="#c0c0c0"/><rect x="1020" y="711" width="1" height="27" fill="#c0c0c0"/><rect x="1028" y="711" width="1" height="26" fill="#c0c0c0"/><rect x="1036" y="711" width="1" height="26" fill="#c0c0c0"/><rect x="1044" y="711" width="1" height="25" fill="#c0c0c0"/><rect x="1052" y="711" width="1" height="23" fill="#c0c0c0"/><rect x="1060" y="711" width="1" height="18" fill="#c0c0c0"/><rect x="1068" y="711" width="1" height="12" fill="#c0c0c0"/><rect x="1076" y="711" width="1" height="9" fill="#c0c0c0"/><rect x="1092" y="709" width="1" height="3" fill="#c0c0c0"/><rect x="1100" y="705" width="1" height="7" fill="#c0c0c0"/><rect x="1108" y="705" width="1" height="7" fill="#c0c0c0"/><rect x="1116" y="710" width="1" height="2" fill="#c0c0c0"/><rect x="1124" y="711" width="1" height="4" fill="#c0c0c0"/><rect x="1132" y="711" width="1" height="5" fill="#c0c0c0"/><rect x="1140" y="711" width="1" height="6" fill="#c0c0c0"/><rect x="1148" y="711" width="1" height="7" fill="#c0c0c0"/><rect x="1156" y="711" width="1" height="10" fill="#c0c0c0"/><rect x="1164" y="711" width="1" height="14" fill="#c0c0c0"/><rect x="1172" y="711" width="1" height="16" fill="#c0c0c0"/><rect x="1180" y="711" width="1" height="21" fill="#c0c0c0"/><rect x="1188" y="711" width="1" height="22" fill="#c0c0c0"/><rect x="1196" y="711" width="1" height="22" fill="#c0c0c0"/><rect x="1204" y="711" width="1" height="21" fill="#c0c0c0"/><rect x="1212" y="711" width="1" height="20" fill="#c0c0c0"/><rect x="1220" y="711" width="1" height="14" fill="#c0c0c0"/><rect x="1228" y="711" width="1" height="7" fill="#c0c0c0"/><rect x="1236" y="711" width="1" height="3" fill="#c0c0c0"/><rect x="1244" y="706" width="1" height="6" fill="#c0c0c0"/><rect x="1252" y="700" width="1" height="12" fill="#c0c0c0"/><rect x="1260" y="692" width="1" height="20" fill="#c0c0c0"/><rect x="1268" y="688" width="1" height="24" fill="#c0c0c0"/><rect x="1276" y="688" width="1" height="24" fill="#c0c0c0"/><rect x="1284" y="689" width="1" height="23" fill="#c0c0c0"/><rect x="1292" y="690" width="1" height="22" fill="#c0c0c0"/><rect x="1300" y="694" width="1" height="18" fill="#c0c0c0"/><rect x="1308" y="701" width="1" height="11" fill="#c0c0c0"/><rect x="1316" y="707" width="1" height="5" fill="#c0c0c0"/><rect x="1324" y="710" width="1" height="2" fill="#c0c0c0"/><rect x="1332" y="710" width="1" height="2" fill="#c0c0c0"/><rect x="1340" y="710" width="1" height="2" fill="#c0c0c0"/><rect x="1348" y="709" width="1" height="3" fill="#c0c0c0"/><rect x="1356" y="707" width="1" height="5" fill="#c0c0c0"/><rect x="1364" y="707" width="1" height="5" fill="#c0c0c0"/><rect x="1372" y="707" width="1" height="5" fill="#c0c0c0"/><rect x="1380" y="706" width="1" height="6" fill="#c0c0c0"/><rect x="1388" y="702" width="1" height="10" fill="#c0c0c0"/><rect x="1396" y="699" width="1" height="13" fill="#c0c0c0"/><rect x="1404" y="703" width="1" height="9" fill="#c0c0c0"/><rect x="1412" y="710" width="1" height="2" fill="#c0c0c0"/><rect x="1428" y="711" width="1" height="2" fill="#c0c0c0"/><rect x="1436" y="711" width="1" height="6" fill="#c0c0c0"/><polyline points="-3.5,700.5 4.5,696.1 12.5,690.1 20.5,684.0 28.5,677.1 36.5,670.1 44.5,664.9 52.5,659.7 60.5,655.7 68.5,652.4 76.5,648.9 84.5,645.5 92.5,642.7 100.5,640.1 108.5,638.3 116.5,636.3 124.5,634.0 132.5,631.6 140.5,630.0 148.5,628.6 156.5,627.5 164.5,626.5 172.5,625.8 180.5,624.9 188.5,624.1 196.5,623.4 204.5,622.9 212.5,622.5 220.5,623.0 228.5,624.8 236.5,626.8 244.5,631.1 252.5,636.2 260.5,643.6 268.5,651.6 276.5,660.3 284.5,669.5 292.5,677.5 300.5,684.9 308.5,691.7 316.5,698.0 324.5,703.2 332.5,708.2 340.5,711.2 348.5,713.8 356.5,715.1 364.5,715.9 372.5,715.2 380.5,714.1 388.5,711.8 396.5,709.0 404.5,705.5 412.5,702.4 420.5,699.9 428.5,697.7 436.5,696.1 444.5,694.8 452.5,694.6 460.5,694.8 468.5,695.3 476.5,695.5 484.5,694.6 492.5,692.6 500.5,690.5 508.5,687.6 516.5,684.3 524.5,679.6 532.5,674.4 540.5,667.9 548.5,661.0 556.5,653.0 564.5,644.7 572.5,635.9 580.5,627.3 588.5,618.8 596.5,610.8 604.5,604.4 612.5,598.3 620.5,594.6 628.5,592.0 636.5,590.8 644.5,591.4 652.5,592.9 660.5,595.0 668.5,598.7 676.5,602.8 684.5,607.5 692.5,612.4 700.5,617.6 708.5,622.7 716.5,626.8 724.5,630.5 732.5,632.1 740.5,632.8 748.5,632.2 756.5,631.2 764.5,629.0 772.5,626.5 780.5,624.5 788.5,622.8 796.5,622.1 804.5,621.9 812.5,623.1 820.5,624.9 828.5,628.1 836.5,631.7 844.5,635.7 852.5,639.6 860.5,643.0 868.5,646.3 876.5,649.1 884.5,651.9 892.5,654.5 900.5,656.7 908.5,658.6 916.5,660.7 924.5,663.7 932.5,667.7 940.5,672.3 948.5,677.2 956.5,682.3 964.5,687.5 972.5,692.7 980.5,697.4 988.5,702.4 996.5,707.9 1004.5,713.3 1012.5,718.0 1020.5,722.5 1028.5,725.9 1036.5,729.3 1044.5,731.8 1052.5,734.1 1060.5,735.1 1068.5,733.8 1076.5,732.2 1084.5,729.0 1092.5,725.6 1100.5,722.3 1108.5,719.0 1116.5,716.3 1124.5,714.1 1132.5,712.7 1140.5,711.6 1148.5,711.6 1156.5,712.9 1164.5,714.6 1172.5,717.2 1180.5,720.0 1188.5,722.3 1196.5,724.9 1204.5,726.7 1212.5,728.3 1220.5,728.8 1228.5,728.7 1236.5,726.9 1244.5,724.5 1252.5,720.7 1260.5,716.5 1268.5,711.1 1276.5,705.8 1284.5,701.5 1292.5,697.5 1300.5,695.4 1308.5,693.9 1316.5,693.9 1324.5,695.0 1332.5,696.9 1340.5,699.5 1348.5,702.1 1356.5,704.2 1364.5,706.3 1372.5,707.5 1380.5,708.2 1388.5,708.1 1396.5,707.6 1404.5,706.6 1412.5,706.0 1420.5,706.3 1428.5,706.8 1436.5,707.5" fill="none" stroke="#ff0000" stroke-width="1" stroke-dasharray="3,3"/><line x1="1323" y1="708.5" x2="1430.0" y2="713.9" stroke="#ff0000" stroke-width="3"/><polygon points="1442.0,714.5 1429.8,718.9 1430.3,708.9" fill="#ff0000"/></g>
<g clip-path="url(#cr)" shape-rendering="crispEdges"><line x1="1" y1="784.5" x2="1647" y2="784.5" stroke="#c0c0c0" stroke-width="1" stroke-dasharray="3,3"/><line x1="1" y1="835.5" x2="1647" y2="835.5" stroke="#c0c0c0" stroke-width="1" stroke-dasharray="3,3"/><line x1="1" y1="896.5" x2="1647" y2="896.5" stroke="#c0c0c0" stroke-width="1" stroke-dasharray="3,3"/><polyline points="-3.5,797.5 4.5,796.7 12.5,795.0 20.5,792.3 28.5,787.3 36.5,784.3 44.5,787.9 52.5,806.1 60.5,798.5 68.5,791.4 76.5,796.2 84.5,795.5 92.5,798.5 100.5,790.5 108.5,789.3 116.5,785.2 124.5,793.5 132.5,790.5 140.5,788.4 148.5,797.6 156.5,807.4 164.5,803.3 172.5,791.4 180.5,788.4 188.5,790.2 196.5,791.4 204.5,795.5 212.5,791.1 220.5,824.2 228.5,834.5 236.5,827.4 244.5,840.1 252.5,836.1 260.5,839.3 268.5,847.2 276.5,843.3 284.5,847.2 292.5,841.0 300.5,837.5 308.5,841.6 316.5,846.4 324.5,848.5 332.5,845.1 340.5,834.5 348.5,838.4 356.5,831.3 364.5,824.2 372.5,821.0 380.5,819.2 388.5,813.6 396.5,812.3 404.5,829.9 412.5,832.5 420.5,830.4 428.5,828.6 436.5,828.6 444.5,836.3 452.5,833.6 460.5,823.8 468.5,818.9 476.5,816.2 484.5,808.3 492.5,803.8 500.5,819.8 508.5,804.4 516.5,803.3 524.5,800.3 532.5,790.2 540.5,788.4 548.5,785.2 556.5,778.5 564.5,778.5 572.5,778.5 580.5,785.2 588.5,785.2 596.5,783.1 604.5,778.5 612.5,786.1 620.5,790.0 628.5,795.5 636.5,792.3 644.5,793.7 652.5,799.4 660.5,815.3 668.5,813.6 676.5,804.4 684.5,816.2 692.5,814.5 700.5,808.6 708.5,806.1 716.5,800.5 724.5,797.6 732.5,793.7 740.5,788.4 748.5,789.6 756.5,793.2 764.5,791.1 772.5,789.6 780.5,798.5 788.5,795.5 796.5,807.4 804.5,804.7 812.5,806.5 820.5,817.5 828.5,825.1 836.5,816.8 844.5,813.2 852.5,811.4 860.5,803.5 868.5,805.6 876.5,818.0 884.5,815.3 892.5,826.0 900.5,825.1 908.5,819.8 916.5,830.4 924.5,834.8 932.5,833.4 940.5,854.3 948.5,839.6 956.5,846.0 964.5,836.6 972.5,843.3 980.5,844.6 988.5,855.2 996.5,860.0 1004.5,847.6 1012.5,849.4 1020.5,849.4 1028.5,845.5 1036.5,845.5 1044.5,845.5 1052.5,841.0 1060.5,832.7 1068.5,826.3 1076.5,832.2 1084.5,820.7 1092.5,825.4 1100.5,822.8 1108.5,832.7 1116.5,845.1 1124.5,848.5 1132.5,843.7 1140.5,839.6 1148.5,841.0 1156.5,849.4 1164.5,850.4 1172.5,849.4 1180.5,859.3 1188.5,848.1 1196.5,844.6 1204.5,845.1 1212.5,845.1 1220.5,829.9 1228.5,820.3 1236.5,828.6 1244.5,814.5 1252.5,817.5 1260.5,809.7 1268.5,820.3 1276.5,822.4 1284.5,832.2 1292.5,828.6 1300.5,836.6 1308.5,848.5 1316.5,845.8 1324.5,841.6 1332.5,833.4 1340.5,834.0 1348.5,841.4 1356.5,835.2 1364.5,842.3 1372.5,828.6 1380.5,831.3 1388.5,828.6 1396.5,822.4 1404.5,822.4 1412.5,842.8 1420.5,849.4 1428.5,846.4 1436.5,845.1" fill="none" stroke="#1e90ff" stroke-width="1" /><line x1="1302" y1="830" x2="1421.0" y2="836.8" stroke="#ff0000" stroke-width="3"/><polygon points="1433.0,837.5 1420.7,841.8 1421.3,831.8" fill="#ff0000"/><polyline points="1387.5,835 1390,825 1392.5,835" fill="none" stroke="#ff0000" stroke-width="2"/></g>
<g shape-rendering="crispEdges"><rect x="0" y="21" width="1648" height="1" fill="#000"/><rect x="0" y="574" width="1648" height="1" fill="#000"/><rect x="0" y="576" width="1648" height="1" fill="#000"/><rect x="0" y="745" width="1648" height="1" fill="#000"/><rect x="0" y="748" width="1648" height="1" fill="#000"/><rect x="0" y="922" width="1648" height="1" fill="#000"/><rect x="1647" y="21" width="1" height="554" fill="#000"/><rect x="1647" y="576" width="1" height="170" fill="#000"/><rect x="1647" y="748" width="1" height="175" fill="#000"/></g>
<g shape-rendering="crispEdges"><rect x="1648" y="43" width="3" height="1" fill="#000"/><text x="1653.4" y="46.8" font-size="9.8" fill="#000" textLength="32.1" lengthAdjust="spacingAndGlyphs">114.735</text><rect x="1648" y="76" width="3" height="1" fill="#000"/><text x="1653.4" y="79.8" font-size="9.8" fill="#000" textLength="32.1" lengthAdjust="spacingAndGlyphs">114.440</text><rect x="1648" y="109" width="3" height="1" fill="#000"/><text x="1653.4" y="112.8" font-size="9.8" fill="#000" textLength="32.1" lengthAdjust="spacingAndGlyphs">114.145</text><rect x="1648" y="142" width="3" height="1" fill="#000"/><text x="1653.4" y="145.8" font-size="9.8" fill="#000" textLength="32.1" lengthAdjust="spacingAndGlyphs">113.855</text><rect x="1648" y="175" width="3" height="1" fill="#000"/><text x="1653.4" y="178.8" font-size="9.8" fill="#000" textLength="32.1" lengthAdjust="spacingAndGlyphs">113.560</text><rect x="1648" y="208" width="3" height="1" fill="#000"/><text x="1653.4" y="211.8" font-size="9.8" fill="#000" textLength="32.1" lengthAdjust="spacingAndGlyphs">113.265</text><rect x="1648" y="241" width="3" height="1" fill="#000"/><text x="1653.4" y="244.8" font-size="9.8" fill="#000" textLength="32.1" lengthAdjust="spacingAndGlyphs">112.970</text><rect x="1648" y="274" width="3" height="1" fill="#000"/><text x="1653.4" y="277.8" font-size="9.8" fill="#000" textLength="32.1" lengthAdjust="spacingAndGlyphs">112.675</text><rect x="1648" y="307" width="3" height="1" fill="#000"/><text x="1653.4" y="310.8" font-size="9.8" fill="#000" textLength="32.1" lengthAdjust="spacingAndGlyphs">112.385</text><rect x="1648" y="340" width="3" height="1" fill="#000"/><text x="1653.4" y="343.8" font-size="9.8" fill="#000" textLength="32.1" lengthAdjust="spacingAndGlyphs">112.090</text><rect x="1648" y="373" width="3" height="1" fill="#000"/><text x="1653.4" y="376.8" font-size="9.8" fill="#000" textLength="32.1" lengthAdjust="spacingAndGlyphs">111.795</text><rect x="1648" y="406" width="3" height="1" fill="#000"/><text x="1653.4" y="409.8" font-size="9.8" fill="#000" textLength="32.1" lengthAdjust="spacingAndGlyphs">111.500</text><rect x="1648" y="439" width="3" height="1" fill="#000"/><text x="1653.4" y="442.8" font-size="9.8" fill="#000" textLength="32.1" lengthAdjust="spacingAndGlyphs">111.205</text><rect x="1648" y="472" width="3" height="1" fill="#000"/><text x="1653.4" y="475.8" font-size="9.8" fill="#000" textLength="32.1" lengthAdjust="spacingAndGlyphs">110.915</text><rect x="1648" y="505" width="3" height="1" fill="#000"/><text x="1653.4" y="508.8" font-size="9.8" fill="#000" textLength="32.1" lengthAdjust="spacingAndGlyphs">110.620</text><rect x="1648" y="538" width="3" height="1" fill="#000"/><text x="1653.4" y="541.8" font-size="9.8" fill="#000" textLength="32.1" lengthAdjust="spacingAndGlyphs">110.325</text><rect x="1648" y="571" width="3" height="1" fill="#000"/><text x="1653.4" y="574.8" font-size="9.8" fill="#000" textLength="32.1" lengthAdjust="spacingAndGlyphs">110.030</text><rect x="1649" y="96" width="41" height="11" fill="#ff0000"/><text x="1653.4" y="105.1" font-size="9.8" fill="#fff" textLength="32.1" lengthAdjust="spacingAndGlyphs">114.209</text><rect x="1649" y="122" width="41" height="11" fill="#ff0000"/><text x="1653.4" y="131.1" font-size="9.8" fill="#fff" textLength="32.1" lengthAdjust="spacingAndGlyphs">113.977</text><rect x="1649" y="144" width="41" height="11" fill="#32cd32"/><text x="1653.4" y="153.1" font-size="9.8" fill="#fff" textLength="32.1" lengthAdjust="spacingAndGlyphs">113.785</text><rect x="1649" y="155" width="41" height="10" fill="#000000"/><text x="1653.4" y="164.1" font-size="9.8" fill="#fff" textLength="32.1" lengthAdjust="spacingAndGlyphs">113.708</text><rect x="1649" y="178" width="41" height="11" fill="#0000ff"/><text x="1653.4" y="187.1" font-size="9.8" fill="#fff" textLength="32.1" lengthAdjust="spacingAndGlyphs">113.479</text><rect x="1649" y="206" width="41" height="11" fill="#0000ff"/><text x="1653.4" y="215.1" font-size="9.8" fill="#fff" textLength="32.1" lengthAdjust="spacingAndGlyphs">113.230</text><rect x="1642.5" y="126.5" width="4" height="4" fill="#fff" stroke="#ff0000" stroke-width="1"/><rect x="1642.5" y="182.5" width="4" height="4" fill="#fff" stroke="#0000ff" stroke-width="1"/><rect x="1642.5" y="210.5" width="4" height="4" fill="#fff" stroke="#0000ff" stroke-width="1"/><rect x="1648" y="578" width="2" height="1" fill="#000"/><text x="1651.3" y="587.6" font-size="9.6" fill="#000" textLength="17.75" lengthAdjust="spacingAndGlyphs">0.58</text><rect x="1648" y="711" width="3" height="1" fill="#000"/><text x="1651.3" y="714.6" font-size="9.6" fill="#000" textLength="17.75" lengthAdjust="spacingAndGlyphs">0.00</text><text x="1651.3" y="742.6" font-size="9.6" fill="#000" textLength="30.93" lengthAdjust="spacingAndGlyphs">-0.1522</text><text x="1651.3" y="759.4" font-size="9.6" fill="#000" textLength="15.21" lengthAdjust="spacingAndGlyphs">100</text><text x="1651.3" y="788.2" font-size="9.6" fill="#000" textLength="10.14" lengthAdjust="spacingAndGlyphs">80</text><text x="1651.3" y="839.4" font-size="9.6" fill="#000" textLength="10.14" lengthAdjust="spacingAndGlyphs">50</text><text x="1651.3" y="900.4" font-size="9.6" fill="#000" textLength="10.14" lengthAdjust="spacingAndGlyphs">15</text><text x="1651.3" y="918.3000000000001" font-size="9.6" fill="#000" textLength="5.07" lengthAdjust="spacingAndGlyphs">0</text><rect x="1648" y="921" width="2" height="1" fill="#000"/></g>
<g shape-rendering="crispEdges"><text x="0.7" y="934.6" font-size="10" fill="#000" textLength="37.2" lengthAdjust="spacingAndGlyphs">Sep 2021</text><rect x="52" y="923" width="1" height="3" fill="#000"/><text x="51.2" y="934.6" font-size="10" fill="#000" textLength="54.49" lengthAdjust="spacingAndGlyphs">27 Sep 00:00</text><rect x="116" y="923" width="1" height="3" fill="#000"/><text x="115.2" y="934.6" font-size="10" fill="#000" textLength="54.49" lengthAdjust="spacingAndGlyphs">28 Sep 08:00</text><rect x="180" y="923" width="1" height="3" fill="#000"/><text x="179.2" y="934.6" font-size="10" fill="#000" textLength="54.49" lengthAdjust="spacingAndGlyphs">29 Sep 16:00</text><rect x="244" y="923" width="1" height="3" fill="#000"/><text x="243.2" y="934.6" font-size="10" fill="#000" textLength="47.34" lengthAdjust="spacingAndGlyphs">1 Oct 00:00</text><rect x="308" y="923" width="1" height="3" fill="#000"/><text x="307.2" y="934.6" font-size="10" fill="#000" textLength="47.34" lengthAdjust="spacingAndGlyphs">4 Oct 08:00</text><rect x="372" y="923" width="1" height="3" fill="#000"/><text x="371.2" y="934.6" font-size="10" fill="#000" textLength="47.34" lengthAdjust="spacingAndGlyphs">5 Oct 16:00</text><rect x="436" y="923" width="1" height="3" fill="#000"/><text x="435.2" y="934.6" font-size="10" fill="#000" textLength="47.34" lengthAdjust="spacingAndGlyphs">7 Oct 00:00</text><rect x="500" y="923" width="1" height="3" fill="#000"/><text x="499.2" y="934.6" font-size="10" fill="#000" textLength="47.34" lengthAdjust="spacingAndGlyphs">8 Oct 08:00</text><rect x="564" y="923" width="1" height="3" fill="#000"/><text x="563.2" y="934.6" font-size="10" fill="#000" textLength="51.76" lengthAdjust="spacingAndGlyphs">11 Oct 16:00</text><rect x="628" y="923" width="1" height="3" fill="#000"/><text x="627.2" y="934.6" font-size="10" fill="#000" textLength="52.44" lengthAdjust="spacingAndGlyphs">13 Oct 00:00</text><rect x="692" y="923" width="1" height="3" fill="#000"/><text x="691.2" y="934.6" font-size="10" fill="#000" textLength="52.44" lengthAdjust="spacingAndGlyphs">14 Oct 08:00</text><rect x="756" y="923" width="1" height="3" fill="#000"/><text x="755.2" y="934.6" font-size="10" fill="#000" textLength="52.44" lengthAdjust="spacingAndGlyphs">15 Oct 16:00</text><rect x="820" y="923" width="1" height="3" fill="#000"/><text x="819.2" y="934.6" font-size="10" fill="#000" textLength="52.44" lengthAdjust="spacingAndGlyphs">19 Oct 00:00</text><rect x="884" y="923" width="1" height="3" fill="#000"/><text x="883.2" y="934.6" font-size="10" fill="#000" textLength="52.44" lengthAdjust="spacingAndGlyphs">20 Oct 08:00</text><rect x="948" y="923" width="1" height="3" fill="#000"/><text x="947.2" y="934.6" font-size="10" fill="#000" textLength="52.44" lengthAdjust="spacingAndGlyphs">21 Oct 16:00</text><rect x="1012" y="923" width="1" height="3" fill="#000"/><text x="1011.2" y="934.6" font-size="10" fill="#000" textLength="52.44" lengthAdjust="spacingAndGlyphs">25 Oct 00:00</text><rect x="1076" y="923" width="1" height="3" fill="#000"/><text x="1075.2" y="934.6" font-size="10" fill="#000" textLength="52.44" lengthAdjust="spacingAndGlyphs">26 Oct 08:00</text><rect x="1140" y="923" width="1" height="3" fill="#000"/><text x="1139.2" y="934.6" font-size="10" fill="#000" textLength="52.44" lengthAdjust="spacingAndGlyphs">27 Oct 16:00</text><rect x="1204" y="923" width="1" height="3" fill="#000"/><text x="1203.2" y="934.6" font-size="10" fill="#000" textLength="52.44" lengthAdjust="spacingAndGlyphs">29 Oct 00:00</text><rect x="1268" y="923" width="1" height="3" fill="#000"/><text x="1267.2" y="934.6" font-size="10" fill="#000" textLength="49.38" lengthAdjust="spacingAndGlyphs">1 Nov 08:00</text><rect x="1332" y="923" width="1" height="3" fill="#000"/><text x="1331.2" y="934.6" font-size="10" fill="#000" textLength="49.38" lengthAdjust="spacingAndGlyphs">2 Nov 16:00</text><rect x="1396" y="923" width="1" height="3" fill="#000"/><text x="1395.2" y="934.6" font-size="10" fill="#000" textLength="49.38" lengthAdjust="spacingAndGlyphs">4 Nov 00:00</text></g>
<polygon points="1442,22 1451,22 1446.5,27" fill="#c0c0c0" shape-rendering="crispEdges"/>
<rect x="1693" y="19" width="1" height="918" fill="#e0e0e0"/>
<rect x="0" y="0" width="1694" height="16" fill="#f0f0f0"/><rect x="0" y="16" width="1694" height="1" fill="#f7f7f7"/><rect x="0" y="17" width="1694" height="1" fill="#a0a0a0"/><rect x="0" y="18" width="1694" height="1" fill="#696969"/><rect x="0" y="11" width="1" height="3" fill="#c8a050"/><rect x="8" y="0" width="1" height="15" fill="#a0a0a0"/><rect x="9" y="0" width="1" height="15" fill="#ffffff"/><rect x="18.5" y="-2.5" width="10" height="12" fill="#fff" stroke="#707070"/><rect x="20" y="1" width="6" height="1" fill="#909090"/><rect x="20" y="4" width="6" height="1" fill="#909090"/><path d="M26,3h4v4h4v4h-4v4h-4v-4h-4v-4h4z" fill="#22cc22" stroke="#0a8a0a" stroke-width="1"/><text x="37" y="9.5" font-size="12" fill="#111">新订单</text><defs><linearGradient id="gbook" x1="0" y1="0" x2="1" y2="1"><stop offset="0" stop-color="#f6d23a"/><stop offset="1" stop-color="#d89a12"/></linearGradient><linearGradient id="gcloud" x1="0" y1="0" x2="0" y2="1"><stop offset="0" stop-color="#ffffff"/><stop offset="1" stop-color="#b8c6dc"/></linearGradient></defs><path d="M85,6.5 L91.5,-1 L100.5,6 L93,12.7 Z" fill="url(#gbook)" stroke="#9a6410" stroke-width="1"/><path d="M99.5,7.2 L93.2,12.4" stroke="#f0e0a8" stroke-width="1.2"/><path d="M86.5,7.5 L92.5,12" stroke="#f3dc80" stroke-width="1"/><rect x="114.5" y="-2" width="11.5" height="9" fill="#1a90f0"/><rect x="118" y="-2" width="1" height="9" fill="#d8ecff"/><rect x="120.5" y="2" width="3.5" height="1" fill="#e8f4ff"/><path d="M114.5,12.2 Q112.6,12 113.2,9.4 Q113.8,7.4 116.2,7.9 Q117.2,5 120.6,5.2 Q123.6,5.1 124.6,7.2 Q128.6,6.8 128.8,9.6 Q128.9,12.3 126.4,12.2 Z" fill="url(#gcloud)" stroke="#4a6aa0" stroke-width="1"/><path d="M144,10.5 A7.3,7.3 0 0 1 149,-2.5" fill="none" stroke="#5a82d8" stroke-width="1.2"/><path d="M154,10.5 A7.3,7.3 0 0 0 149,-2.5" fill="none" stroke="#4a9a60" stroke-width="1.2"/><path d="M146,8.5 A4.5,4.5 0 0 1 149,0.3" fill="none" stroke="#9ab4e8" stroke-width="1"/><path d="M152,8.5 A4.5,4.5 0 0 0 149,0.3" fill="none" stroke="#98c8a0" stroke-width="1"/><circle cx="149" cy="4.8" r="1.8" fill="#2050c8"/><path d="M149.5,5 V12.5" fill="none" stroke="#20a020" stroke-width="1.3"/><path d="M168.5,4.5 L183.5,3.5 L176.5,12.7 Z" fill="#f8e060" stroke="#c89a18" stroke-width="1"/><ellipse cx="176" cy="0.5" rx="7.5" ry="3.8" fill="#6cc0f0" stroke="#2a88c0" stroke-width="1"/><circle cx="180.5" cy="8.5" r="4.2" fill="#d82010"/><rect x="178.5" y="6.5" width="4" height="4" fill="#fff"/><text x="190" y="9.5" font-size="12" fill="#111">自动交易</text><rect x="244" y="0" width="1" height="15" fill="#a0a0a0"/><rect x="245" y="0" width="1" height="15" fill="#ffffff"/><rect x="248" y="1" width="3" height="1" fill="#a0a0a0"/><rect x="248" y="3" width="3" height="1" fill="#a0a0a0"/><rect x="248" y="5" width="3" height="1" fill="#a0a0a0"/><rect x="248" y="7" width="3" height="1" fill="#a0a0a0"/><rect x="248" y="9" width="3" height="1" fill="#a0a0a0"/><rect x="248" y="11" width="3" height="1" fill="#a0a0a0"/><rect x="248" y="13" width="3" height="1" fill="#a0a0a0"/><path d="M262.5,0 V11.5 H273" fill="none" stroke="#404040" stroke-width="1"/><path d="M271,10 l2,1.5 l-2,1.5" fill="none" stroke="#404040"/><path d="M261,2 l1.5,-2 l1.5,2" fill="none" stroke="#404040"/><path d="M266.5,2 V9 M264,8.5 h2.5 M266.5,3.5 h2.5" stroke="#108010" fill="none"/><rect x="281" y="0" width="1" height="15" fill="#a0a0a0"/><rect x="282" y="0" width="1" height="15" fill="#ffffff"/><rect x="284" y="0" width="22" height="16" fill="#e6e6e6"/><path d="M290.5,0 V11.5 H301" fill="none" stroke="#404040" stroke-width="1"/><path d="M299,10 l2,1.5 l-2,1.5" fill="none" stroke="#404040"/><path d="M289,2 l1.5,-2 l1.5,2" fill="none" stroke="#404040"/><rect x="293" y="-1" width="4" height="8" fill="#20a020"/><rect x="294.5" y="7" width="1" height="2" fill="#106010"/><path d="M317.5,0 V11.5 H328" fill="none" stroke="#404040" stroke-width="1"/><path d="M326,10 l2,1.5 l-2,1.5" fill="none" stroke="#404040"/><path d="M316,2 l1.5,-2 l1.5,2" fill="none" stroke="#404040"/><path d="M318,9 Q322,0 327,4" fill="none" stroke="#108010"/><rect x="338" y="0" width="1" height="15" fill="#a0a0a0"/><rect x="339" y="0" width="1" height="15" fill="#ffffff"/><circle cx="353" cy="3" r="5" fill="#cfe6ff" stroke="#2f6fd0" stroke-width="1.5"/><path d="M356.5,7 L362,12.5" stroke="#d8a020" stroke-width="3"/><path d="M350.5,3 h5" stroke="#2060c0" stroke-width="1.5"/><path d="M353,0.5 v5" stroke="#2060c0" stroke-width="1.5"/><circle cx="382" cy="3" r="5" fill="#cfe6ff" stroke="#2f6fd0" stroke-width="1.5"/><path d="M385.5,7 L391,12.5" stroke="#d8a020" stroke-width="3"/><path d="M379.5,3 h5" stroke="#2060c0" stroke-width="1.5"/><rect x="404" y="-2" width="7" height="7" fill="#3070d0"/><rect x="412" y="-2" width="7" height="7" fill="#30a040"/><rect x="404" y="6" width="7" height="7" fill="#3070d0"/><rect x="412" y="6" width="7" height="7" fill="#30a040"/><rect x="405" y="8" width="5" height="3" fill="#e0ecff"/><rect x="413" y="8" width="5" height="3" fill="#e0ffe0"/><rect x="428" y="0" width="1" height="15" fill="#a0a0a0"/><rect x="429" y="0" width="1" height="15" fill="#ffffff"/><rect x="433" y="0" width="1" height="15" fill="#a0a0a0"/><rect x="434" y="0" width="1" height="15" fill="#ffffff"/><path d="M442.5,0 V11.5 H453" fill="none" stroke="#404040" stroke-width="1"/><path d="M451,10 l2,1.5 l-2,1.5" fill="none" stroke="#404040"/><path d="M441,2 l1.5,-2 l1.5,2" fill="none" stroke="#404040"/><path d="M448,1 l4,3 l-4,3 z" fill="#20a020"/><rect x="461" y="0" width="1" height="15" fill="#a0a0a0"/><rect x="462" y="0" width="1" height="15" fill="#ffffff"/><path d="M470.5,0 V11.5 H481" fill="none" stroke="#404040" stroke-width="1"/><path d="M479,10 l2,1.5 l-2,1.5" fill="none" stroke="#404040"/><path d="M469,2 l1.5,-2 l1.5,2" fill="none" stroke="#404040"/><path d="M474,0 v8 M480,4 l-3,0 M477,2 l-2,2 l2,2" stroke="#d03030" fill="none"/><rect x="491" y="0" width="1" height="15" fill="#a0a0a0"/><rect x="492" y="0" width="1" height="15" fill="#ffffff"/><rect x="501.5" y="-1.5" width="9" height="10" fill="#fff" stroke="#808080"/><path d="M508,4h3v3h3v3h-3v3h-3v-3h-3v-3h3z" fill="#22cc22" stroke="#0a8a0a"/><path d="M524,4 h5 l-2.5,3 z" fill="#000"/><circle cx="547" cy="4" r="7" fill="#2a5fc0"/><circle cx="547" cy="4" r="5" fill="#e8f0ff"/><path d="M547,0.5 V4 H550" stroke="#203060" fill="none"/><path d="M563,4 h5 l-2.5,3 z" fill="#000"/><rect x="578.5" y="-1.5" width="16" height="12" fill="#f8f8ff" stroke="#4060a0"/><path d="M580,3 l4,-1 l4,1 l5,-2" stroke="#d03030" fill="none"/><path d="M580,7 l4,-1 l4,1 l5,-1" stroke="#30a030" fill="none"/><path d="M602,4 h5 l-2.5,3 z" fill="#000"/><rect x="613" y="0" width="1" height="15" fill="#a0a0a0"/><rect x="614" y="0" width="1" height="15" fill="#ffffff"/><rect x="617" y="1" width="3" height="1" fill="#a0a0a0"/><rect x="617" y="3" width="3" height="1" fill="#a0a0a0"/><rect x="617" y="5" width="3" height="1" fill="#a0a0a0"/><rect x="617" y="7" width="3" height="1" fill="#a0a0a0"/><rect x="617" y="9" width="3" height="1" fill="#a0a0a0"/><rect x="617" y="11" width="3" height="1" fill="#a0a0a0"/><rect x="617" y="13" width="3" height="1" fill="#a0a0a0"/><rect x="623" y="0" width="23" height="16" fill="#e6e6e6"/><path d="M630,-1 L630,11 L632.5,8.5 L634.5,13 L636,12.3 L634,8 L637.5,8 Z" fill="#303030"/><path d="M662.5,-1 V12 M656,5.5 H669" stroke="#404040" fill="none"/><rect x="680" y="0" width="1" height="15" fill="#a0a0a0"/><rect x="681" y="0" width="1" height="15" fill="#ffffff"/><path d="M696.5,-1 V11" stroke="#404040"/><path d="M719,5.5 H731" stroke="#404040"/><path d="M746,11 L758,0" stroke="#404040"/><path d="M774,9 L784,0 M777,11 L787,2 M775,3 h10 M775,7 h10" stroke="#505050" fill="none"/><text x="786" y="13" font-size="7" fill="#404040">E</text><path d="M802,1.5 h12 M802,4.5 h12 M802,7.5 h12" stroke="#808080" stroke-dasharray="1,1" fill="none"/><text x="812" y="13.5" font-size="7" fill="#404040">F</text><text x="832" y="10" font-size="12" font-weight="bold" fill="#505050">A</text><rect x="859.5" y="-0.5" width="11" height="11" fill="none" stroke="#606060" stroke-dasharray="1,1"/><text x="861.5" y="9" font-size="10" font-weight="bold" fill="#404040">T</text><path d="M887,0 l4,3 l-2,1 z M893,5 l6,4 l-3,1 z" fill="#404040"/><path d="M906,4 h5 l-2.5,3 z" fill="#000"/><rect x="918" y="0" width="1" height="15" fill="#a0a0a0"/><rect x="919" y="0" width="1" height="15" fill="#ffffff"/><rect x="922" y="1" width="3" height="1" fill="#a0a0a0"/><rect x="922" y="3" width="3" height="1" fill="#a0a0a0"/><rect x="922" y="5" width="3" height="1" fill="#a0a0a0"/><rect x="922" y="7" width="3" height="1" fill="#a0a0a0"/><rect x="922" y="9" width="3" height="1" fill="#a0a0a0"/><rect x="922" y="11" width="3" height="1" fill="#a0a0a0"/><rect x="922" y="13" width="3" height="1" fill="#a0a0a0"/><rect x="1069" y="0" width="24" height="16" fill="#e6e6e6"/><rect x="1068" y="0" width="1" height="16" fill="#a0a0a0"/><text x="940" y="10" font-size="10" fill="#404040" text-anchor="middle">M1</text><text x="968" y="10" font-size="10" fill="#404040" text-anchor="middle">M5</text><text x="996" y="10" font-size="10" fill="#404040" text-anchor="middle">M15</text><text x="1024" y="10" font-size="10" fill="#404040" text-anchor="middle">M30</text><text x="1052" y="10" font-size="10" fill="#404040" text-anchor="middle">H1</text><text x="1080" y="10" font-size="10" fill="#404040" text-anchor="middle">H4</text><text x="1108" y="10" font-size="10" fill="#404040" text-anchor="middle">D1</text><text x="1137" y="10" font-size="10" fill="#404040" text-anchor="middle">W1</text><text x="1164" y="10" font-size="10" fill="#404040" text-anchor="middle">MN</text><rect x="1179" y="0" width="1" height="15" fill="#a0a0a0"/><rect x="1180" y="0" width="1" height="15" fill="#ffffff"/><circle cx="1649.5" cy="2.5" r="4" fill="none" stroke="#2050d0" stroke-width="1.6"/><path d="M1646.5,5.5 L1642,10" stroke="#2050d0" stroke-width="2.4"/><ellipse cx="1671" cy="7.5" rx="5.5" ry="4.5" fill="#e0e0e8" stroke="#b0b0b8"/><path d="M1669,11 l-1,3 l3,-2.5 z" fill="#a0a0a8"/><circle cx="1680.5" cy="3.5" r="7.5" fill="#d82a10"/><text x="1680.5" y="7" font-size="10" fill="#fff" text-anchor="middle" style="font-family:'Liberation Serif',serif">1</text>
<defs><linearGradient id="gtab" x1="0" y1="0" x2="0" y2="1"><stop offset="0" stop-color="#f75252"/><stop offset="1" stop-color="#d42a2a"/></linearGradient><linearGradient id="gpx" x1="0" y1="0" x2="0" y2="1"><stop offset="0" stop-color="#dc2626"/><stop offset="1" stop-color="#b00606"/></linearGradient><linearGradient id="gbtn" x1="0" y1="0" x2="0" y2="1"><stop offset="0" stop-color="#f2f2f2"/><stop offset="0.45" stop-color="#e4e4e4"/><stop offset="0.5" stop-color="#d8d8d8"/><stop offset="1" stop-color="#d0d0d0"/></linearGradient></defs><rect x="0" y="41" width="210" height="57" fill="#fff"/><rect x="0" y="41" width="43" height="25" fill="#c00000"/><rect x="0" y="42" width="42" height="23" fill="url(#gtab)"/><rect x="0" y="64" width="39" height="1" fill="#8a0000"/><rect x="0" y="65" width="39" height="1" fill="#f07070"/><text x="3.6" y="57.2" font-size="12.4" fill="#fff" textLength="25.2" lengthAdjust="spacingAndGlyphs">SELL</text><rect x="158" y="41" width="52" height="25" fill="#c00000"/><rect x="159" y="42" width="50" height="23" fill="url(#gtab)"/><rect x="162" y="64" width="44" height="1" fill="#8a0000"/><rect x="162" y="65" width="44" height="1" fill="#f07070"/><text x="172" y="57" font-size="12.4" fill="#fff" textLength="22.7" lengthAdjust="spacingAndGlyphs">BUY</text><rect x="45.5" y="41.5" width="110" height="21" fill="#fff" stroke="#b4b4b8"/><rect x="46.5" y="42.5" width="19" height="19" fill="url(#gbtn)" stroke="#c8c8cc"/><rect x="134.5" y="42.5" width="20" height="19" fill="url(#gbtn)" stroke="#c8c8cc"/><rect x="66" y="42" width="1" height="20" fill="#b4b4b8"/><rect x="134" y="42" width="1" height="20" fill="#b4b4b8"/><path d="M53,50.5 h5 l-2.5,2.5 z" fill="#4060c0"/><path d="M142,53 h5 l-2.5,-2.5 z" fill="#4060c0"/><text x="130.5" y="56" font-size="11.8" fill="#000" text-anchor="end">1.00</text><rect x="0" y="65" width="100" height="33" fill="#a80000"/><rect x="0" y="66" width="99" height="31" fill="url(#gpx)"/><rect x="102" y="65" width="108" height="33" fill="#a80000"/><rect x="103" y="66" width="106" height="31" fill="url(#gpx)"/><rect x="0" y="64" width="39" height="1" fill="#8a0000"/><rect x="162" y="64" width="44" height="1" fill="#8a0000"/><rect x="0" y="65" width="39" height="1" fill="#ec6a6a"/><rect x="162" y="65" width="44" height="1" fill="#ec6a6a"/><text x="14.2" y="92.9" font-size="12.6" font-weight="bold" fill="#fff" textLength="20.5" lengthAdjust="spacingAndGlyphs">113</text><text x="39" y="92.9" font-size="33.2" fill="#fff" textLength="33.8" lengthAdjust="spacingAndGlyphs">70</text><text x="78.1" y="76.4" font-size="11.6" font-weight="bold" fill="#fff">8</text><text x="124.4" y="92.9" font-size="12.6" font-weight="bold" fill="#fff" textLength="20.4" lengthAdjust="spacingAndGlyphs">113</text><text x="150.2" y="92.9" font-size="33.2" fill="#fff" textLength="33.3" lengthAdjust="spacingAndGlyphs">77</text><text x="189.3" y="77" font-size="11.6" font-weight="bold" fill="#fff">2</text>
<text x="3.1" y="33.3" font-size="9.9" fill="#000" xml:space="preserve" textLength="201" lengthAdjust="spacingAndGlyphs">USDJPY-,H4  113.695 113.770 113.691 113.708</text>
<text x="-7.6" y="589.5" font-size="9.9" fill="#000" textLength="129.4" lengthAdjust="spacingAndGlyphs">MACD(12,26,9) -0.0277 0.0155</text>
<text x="-8.8" y="761" font-size="9.9" fill="#000" textLength="68.1" lengthAdjust="spacingAndGlyphs">RSI(14) 44.4681</text>
</svg>
</body></html>
